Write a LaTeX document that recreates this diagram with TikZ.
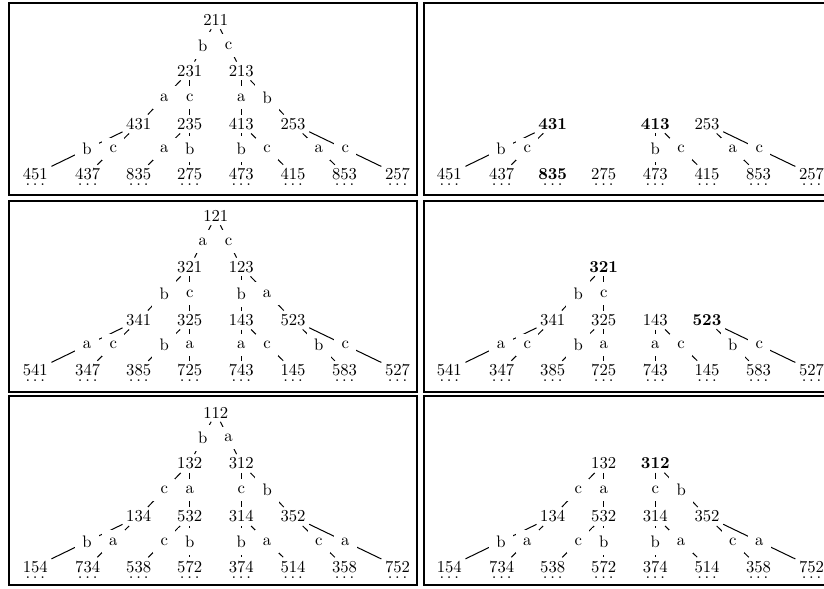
\documentclass[tikz,border=0pt]{standalone}
\usetikzlibrary{calc}
\tikzset{
  num/.style={inner sep=2pt},
  lab/.style={fill=white, inner sep=4.5pt},
  edg/.style={line width=0.6pt, black},
  frame/.style={line width=1pt, black},
  dots/.style={inner sep=0pt, anchor=base},
}
\newcommand{\E}[3]{%
  \draw[edg] (#1) -- (#2);
  \node[lab] (#1#2) at ($(#1)!0.5!(#2)$) {#3};}
\newcommand{\N}[4]{\node[num] (#1) at (#2,#3) {#4};}
\newcommand{\Lf}[3]{%
  \node[num] (#1) at (#2,174.2) {#3};
  \node[dots] (#1d) at (#2,185.6) {$\ldots$};}
\begin{document}
\begin{tikzpicture}[x=0.6pt,y=-0.6pt]
\useasboundingbox (0,0) rectangle (824,588);
\clip (0,0) rectangle (824,588);
% frames
\draw[frame] (8.7,2.7) rectangle (417.2,195);
\draw[frame] (424,2.7) rectangle (834,195);
\draw[frame] (8.7,200.7) rectangle (417.2,391.7);
\draw[frame] (424,200.7) rectangle (834,391.7);
\draw[frame] (8.7,396) rectangle (417.2,585);
\draw[frame] (424,396) rectangle (834,585);
% ---------------- Panel A (top left)
\begin{scope}
\N{A211}{215.8}{20}{211}
\N{A231}{189.7}{71}{231}
\N{A213}{241.3}{71}{213}
\N{A431}{138.7}{124}{431}
\N{A235}{189.7}{124}{235}
\N{A413}{241.3}{124}{413}
\N{A253}{293}{124}{253}
\Lf{A451}{35.3}{451}
\Lf{A437}{87.7}{437}
\Lf{A835}{138.7}{835}
\Lf{A275}{189.7}{275}
\Lf{A473}{241.3}{473}
\Lf{A415}{293}{415}
\Lf{A853}{344.5}{853}
\Lf{A257}{397.5}{257}
\E{A211}{A231}{b}\E{A211}{A213}{c}
\E{A231}{A431}{a}\E{A231}{A235}{c}
\E{A213}{A413}{a}\E{A213}{A253}{b}
\E{A431}{A451}{b}\E{A431}{A437}{c}
\E{A235}{A835}{a}\E{A235}{A275}{b}
\E{A413}{A473}{b}\E{A413}{A415}{c}
\E{A253}{A853}{a}\E{A253}{A257}{c}
\end{scope}
% ---------------- Panel B (top right)
\begin{scope}[shift={(414,0)}]
\N{B431}{138.7}{124}{\textbf{431}}
\N{B413}{241.3}{124}{\textbf{413}}
\N{B253}{293}{124}{253}
\Lf{B451}{35.3}{451}
\Lf{B437}{87.7}{437}
\Lf{B835}{138.7}{\textbf{835}}
\Lf{B275}{189.7}{275}
\Lf{B473}{241.3}{473}
\Lf{B415}{293}{415}
\Lf{B853}{344.5}{853}
\Lf{B257}{397.5}{257}
\E{B431}{B451}{b}\E{B431}{B437}{c}
\E{B413}{B473}{b}\E{B413}{B415}{c}
\E{B253}{B853}{a}\E{B253}{B257}{c}
\end{scope}
% ---------------- Panel C (middle left)
\begin{scope}[shift={(0,196)}]
\N{C121}{215.8}{20}{121}
\N{C321}{189.7}{71}{321}
\N{C123}{241.3}{71}{123}
\N{C341}{138.7}{124}{341}
\N{C325}{189.7}{124}{325}
\N{C143}{241.3}{124}{143}
\N{C523}{293}{124}{523}
\Lf{C541}{35.3}{541}
\Lf{C347}{87.7}{347}
\Lf{C385}{138.7}{385}
\Lf{C725}{189.7}{725}
\Lf{C743}{241.3}{743}
\Lf{C145}{293}{145}
\Lf{C583}{344.5}{583}
\Lf{C527}{397.5}{527}
\E{C121}{C321}{a}\E{C121}{C123}{c}
\E{C321}{C341}{b}\E{C321}{C325}{c}
\E{C123}{C143}{b}\E{C123}{C523}{a}
\E{C341}{C541}{a}\E{C341}{C347}{c}
\E{C325}{C385}{b}\E{C325}{C725}{a}
\E{C143}{C743}{a}\E{C143}{C145}{c}
\E{C523}{C583}{b}\E{C523}{C527}{c}
\end{scope}
% ---------------- Panel D (middle right)
\begin{scope}[shift={(414,196)}]
\N{D321}{189.7}{71}{\textbf{321}}
\N{D341}{138.7}{124}{341}
\N{D325}{189.7}{124}{325}
\N{D143}{241.3}{124}{143}
\N{D523}{293}{124}{\textbf{523}}
\Lf{D541}{35.3}{541}
\Lf{D347}{87.7}{347}
\Lf{D385}{138.7}{385}
\Lf{D725}{189.7}{725}
\Lf{D743}{241.3}{743}
\Lf{D145}{293}{145}
\Lf{D583}{344.5}{583}
\Lf{D527}{397.5}{527}
\E{D321}{D341}{b}\E{D321}{D325}{c}
\E{D341}{D541}{a}\E{D341}{D347}{c}
\E{D325}{D385}{b}\E{D325}{D725}{a}
\E{D143}{D743}{a}\E{D143}{D145}{c}
\E{D523}{D583}{b}\E{D523}{D527}{c}
\end{scope}
% ---------------- Panel E (bottom left)
\begin{scope}[shift={(0,392.5)}]
\N{E112}{215.8}{20}{112}
\N{E132}{189.7}{71}{132}
\N{E312}{241.3}{71}{312}
\N{E134}{138.7}{124}{134}
\N{E532}{189.7}{124}{532}
\N{E314}{241.3}{124}{314}
\N{E352}{293}{124}{352}
\Lf{E154}{35.3}{154}
\Lf{E734}{87.7}{734}
\Lf{E538}{138.7}{538}
\Lf{E572}{189.7}{572}
\Lf{E374}{241.3}{374}
\Lf{E514}{293}{514}
\Lf{E358}{344.5}{358}
\Lf{E752}{397.5}{752}
\E{E112}{E132}{b}\E{E112}{E312}{a}
\E{E132}{E134}{c}\E{E132}{E532}{a}
\E{E312}{E314}{c}\E{E312}{E352}{b}
\E{E134}{E154}{b}\E{E134}{E734}{a}
\E{E532}{E538}{c}\E{E532}{E572}{b}
\E{E314}{E374}{b}\E{E314}{E514}{a}
\E{E352}{E358}{c}\E{E352}{E752}{a}
\end{scope}
% ---------------- Panel F (bottom right)
\begin{scope}[shift={(414,392.5)}]
\N{F132}{189.7}{71}{132}
\N{F312}{241.3}{71}{\textbf{312}}
\N{F134}{138.7}{124}{134}
\N{F532}{189.7}{124}{532}
\N{F314}{241.3}{124}{314}
\N{F352}{293}{124}{352}
\Lf{F154}{35.3}{154}
\Lf{F734}{87.7}{734}
\Lf{F538}{138.7}{538}
\Lf{F572}{189.7}{572}
\Lf{F374}{241.3}{374}
\Lf{F514}{293}{514}
\Lf{F358}{344.5}{358}
\Lf{F752}{397.5}{752}
\E{F132}{F134}{c}\E{F132}{F532}{a}
\E{F312}{F314}{c}\E{F312}{F352}{b}
\E{F134}{F154}{b}\E{F134}{F734}{a}
\E{F532}{F538}{c}\E{F532}{F572}{b}
\E{F314}{F374}{b}\E{F314}{F514}{a}
\E{F352}{F358}{c}\E{F352}{F752}{a}
\end{scope}
\end{tikzpicture}
\end{document}
